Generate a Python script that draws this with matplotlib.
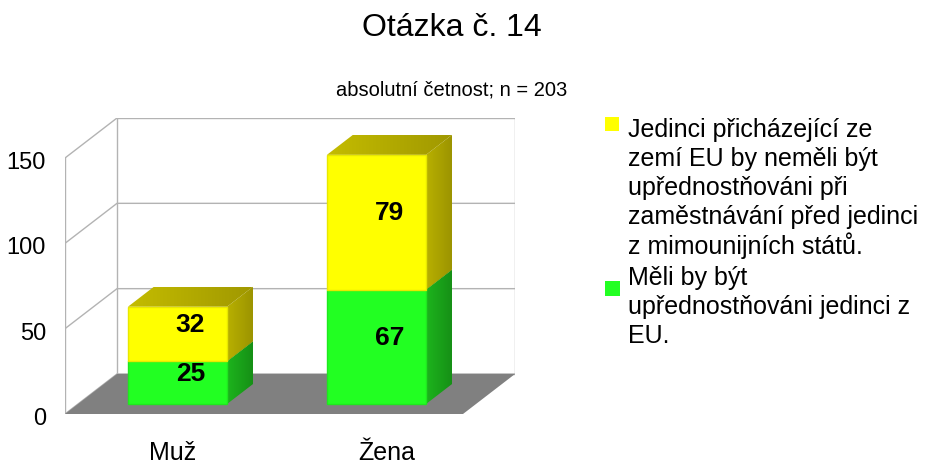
import matplotlib
matplotlib.use("Agg")
import matplotlib.pyplot as plt
from matplotlib.patches import Polygon, Rectangle
from matplotlib.colors import LinearSegmentedColormap
import numpy as np

plt.rcParams['font.family'] = ['Liberation Sans', 'DejaVu Sans']

# ---- data ----
categories = ["Muž", "Žena"]
green_vals = [25, 67]      # Měli by být upřednostňováni jedinci z EU.
yellow_vals = [32, 79]     # Jedinci přicházející ze zemí EU by neměli být ...
yticks = [0, 50, 100, 150]
title = "Otázka č. 14"
subtitle = "absolutní četnost; n = 203"
legend_yellow = ["Jedinci přicházející ze", "zemí EU by neměli být",
                 "upřednostňováni při", "zaměstnávání před jedinci",
                 "z mimounijních států."]
legend_green = ["Měli by být", "upřednostňováni jedinci z", "EU."]

# ---- figure / geometry ----
W, H = 929, 464
fig = plt.figure(figsize=(W / 100, H / 100), dpi=100)

px_x = 199.0           # px per category unit
px_y = 256.0 / 150.0   # px per value unit
ax_left, ax_bottom_px = 65, 415
ax_w_px, ax_h_px = 450, 296
ax = fig.add_axes([ax_left / W, (H - ax_bottom_px) / H, ax_w_px / W, ax_h_px / H])
XL, YL = (0, ax_w_px / px_x), (0, ax_h_px / px_y)
ax.axis('off')

DX, DY = 52 / px_x, 40 / px_y   # full depth vector in data units
ymax_wall = 150

grid_c = '#b3b3b3'
ax.add_patch(Polygon([(0, 0), (2, 0), (2 + DX, DY), (DX, DY)], closed=True,
                     facecolor='#808080', edgecolor='none', zorder=1))
ax.plot([DX, DX + 2, DX + 2, DX, DX], [DY, DY, DY + ymax_wall, DY + ymax_wall, DY],
        color=grid_c, lw=1, zorder=0.5)
for t in yticks:
    ax.plot([0, DX, DX + 2], [t, t + DY, t + DY], color=grid_c, lw=1, zorder=0.5)
ax.plot([0, 0], [0, ymax_wall], color=grid_c, lw=1, zorder=0.5)

half_w = 0.249
d0, d1 = 0.25, 0.75


def grad_poly(pts, c_a, c_b, direction, z):
    poly = Polygon(pts, closed=True, facecolor='none', edgecolor='none', zorder=z)
    ax.add_patch(poly)
    xs = [p[0] for p in pts]
    ys = [p[1] for p in pts]
    cmap = LinearSegmentedColormap.from_list('g', [c_a, c_b])
    g = np.linspace(0, 1, 64)
    arr = g[None, :] if direction == 'h' else g[::-1][:, None]
    im = ax.imshow(arr, cmap=cmap, extent=[min(xs), max(xs), min(ys), max(ys)],
                   aspect='auto', origin='upper', zorder=z, interpolation='bilinear')
    im.set_clip_path(poly)


def box(xc, y0, y1, front, edge, side_a, side_b, top_a, top_b):
    xl, xr = xc - half_w, xc + half_w
    ox0, oy0 = d0 * DX, d0 * DY
    ox1, oy1 = d1 * DX, d1 * DY
    grad_poly([(xr + ox0, y0 + oy0), (xr + ox1, y0 + oy1),
               (xr + ox1, y1 + oy1), (xr + ox0, y1 + oy0)], side_a, side_b, 'h', 3)
    grad_poly([(xl + ox0, y1 + oy0), (xr + ox0, y1 + oy0),
               (xr + ox1, y1 + oy1), (xl + ox1, y1 + oy1)], top_a, top_b, 'h', 3)
    ax.add_patch(Polygon([(xl + ox0, y0 + oy0), (xr + ox0, y0 + oy0),
                          (xr + ox0, y1 + oy0), (xl + ox0, y1 + oy0)],
                         closed=True, facecolor=front, edgecolor=edge, lw=1.0, zorder=3.5))


centers = np.arange(len(categories)) + 0.5
for i, xc in enumerate(centers):
    g, yv = green_vals[i], yellow_vals[i]
    box(xc, 0, g, '#22ff22', '#1fe81f', '#1db41d', '#169016', '#1db41d', '#169016')
    box(xc, g, g + yv, '#ffff00', '#e8e800', '#b8b000', '#9c9400', '#c4bc00', '#a09800')
    for v, base in ((g, 0), (yv, g)):
        ax.text(xc + 0.5 * DX, base + v / 2 + 0.5 * DY, str(v), ha='center', va='center',
                fontsize=19, fontweight='bold', color='black', zorder=5)

ax.set_xlim(*XL)
ax.set_ylim(*YL)

# y tick labels
for t in yticks:
    ax.text(-19 / px_x, t - 4 / px_y, str(t), ha='right', va='center', fontsize=17, color='black')

# category labels
for i, xc in enumerate(centers):
    ax.text(xc + 0.04 + 0.075 * i, -38 / px_y, categories[i], ha='center', va='center',
            fontsize=18, color='black')

fig.text(452 / W, 1 - 28 / H, title, ha='center', va='center', fontsize=23)
fig.text(452 / W, 1 - 90 / H, subtitle, ha='center', va='center', fontsize=14.5)

# legend
lx = 628 / W
line_h = 29
y = 130
fig.patches.append(Rectangle((605 / W, 1 - 132 / H), 14 / W, 14 / H, transform=fig.transFigure,
                             facecolor='#ffff00', edgecolor='none'))
for ln in legend_yellow:
    fig.text(lx, 1 - y / H, ln, ha='left', va='center', fontsize=18)
    y += line_h
y += 3
fig.patches.append(Rectangle((605 / W, 1 - 297 / H), 15 / W, 15 / H, transform=fig.transFigure,
                             facecolor='#22ff22', edgecolor='none'))
for ln in legend_green:
    fig.text(lx, 1 - y / H, ln, ha='left', va='center', fontsize=18)
    y += line_h

fig.savefig('out.png', dpi=100, facecolor='white')
